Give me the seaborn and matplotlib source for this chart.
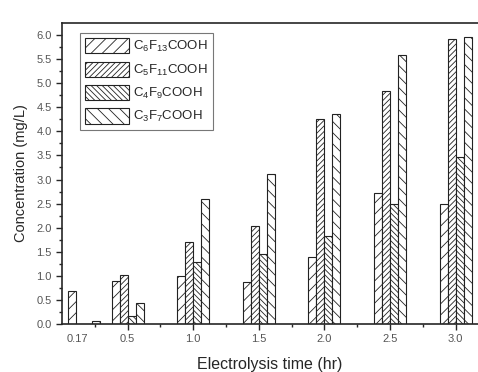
import pandas as pd
import matplotlib
matplotlib.use("Agg")
import matplotlib.pyplot as plt
import matplotlib.patches as mpatches
import seaborn as sns

# -----------------------------
# Data
# -----------------------------
times = [0.17, 0.5, 1.0, 1.5, 2.0, 2.5, 3.0]
compounds = ["C$_6$F$_{13}$COOH", "C$_5$F$_{11}$COOH", "C$_4$F$_9$COOH", "C$_3$F$_7$COOH"]
c6 = [0.69, 0.89, 1.00, 0.87, 1.39, 2.73, 2.50]
c5 = [0.00, 1.02, 1.70, 2.03, 4.26, 4.83, 5.91]
c4 = [0.00, 0.17, 1.29, 1.45, 1.82, 2.50, 3.46]
c3 = [0.07, 0.44, 2.60, 3.11, 4.37, 5.58, 5.95]
hatches = ["///", "//////", "\\\\\\\\\\\\", "\\\\\\"]

df = pd.DataFrame({"time": times * 4,
                   "compound": sum([[c] * len(times) for c in compounds], []),
                   "conc": c6 + c5 + c4 + c3})

sns.set_style("ticks")
plt.rcParams["font.family"] = ["Liberation Sans", "DejaVu Sans"]
plt.rcParams["mathtext.default"] = "regular"
plt.rcParams["hatch.linewidth"] = 0.6

fig = plt.figure(figsize=(4.78, 3.72), dpi=100)
ax = fig.add_axes([62 / 478, 48 / 372, 416 / 478, 301 / 372])

sns.barplot(data=df, x="time", y="conc", hue="compound", native_scale=True,
            width=0.74, errorbar=None, legend=False, ax=ax)

handles = []
for cont, h, name in zip(ax.containers, hatches, compounds):
    for bar in cont:
        bar.set_facecolor("white")
        bar.set_edgecolor("#222222")
        bar.set_linewidth(0.8)
        bar.set_hatch(h)
    handles.append(mpatches.Patch(facecolor="white", edgecolor="#222222",
                                  linewidth=0.8, hatch=h, label=name))

ax.set_xlim(0, 3.17)
ax.set_ylim(0, 6.25)
ax.set_xticks([0.5, 1.0, 1.5, 2.0, 2.5, 3.0])
ax.set_xticks([0.25, 0.75, 1.25, 1.75, 2.25, 2.75], minor=True)
# first time point label sits off the linear grid
ax.annotate("0.17", xy=(0.12, 0), xycoords=("data", "axes fraction"),
            xytext=(0, -7.5), textcoords="offset points", ha="center", va="top",
            fontsize=8, color="#555555")
ax.set_yticks([i * 0.5 for i in range(13)])
ax.set_yticks([0.25 + i * 0.5 for i in range(12)], minor=True)
ax.yaxis.set_major_formatter(matplotlib.ticker.FormatStrFormatter("%.1f"))
ax.xaxis.set_major_formatter(matplotlib.ticker.FormatStrFormatter("%.1f"))
ax.tick_params(which="major", length=4, width=1, labelsize=8, labelcolor="#555555")
ax.tick_params(which="minor", length=2, width=1)
for s in ["left", "bottom", "top"]:
    ax.spines[s].set_linewidth(1.2)
ax.spines["right"].set_visible(False)

ax.set_xlabel("Electrolysis time (hr)", fontsize=11.5, labelpad=9)
ax.set_ylabel("Concentration (mg/L)", fontsize=10.5, labelpad=6)

leg = ax.legend(handles=handles, loc="upper left", bbox_to_anchor=(0.043, 0.967),
                borderaxespad=0, fontsize=9.5, frameon=True, fancybox=False,
                edgecolor="#555555", handlelength=3.3, handleheight=1.4,
                labelspacing=0.55, borderpad=0.4, handletextpad=0.35)
leg.get_frame().set_linewidth(0.8)

fig.savefig("out.png", dpi=100)
